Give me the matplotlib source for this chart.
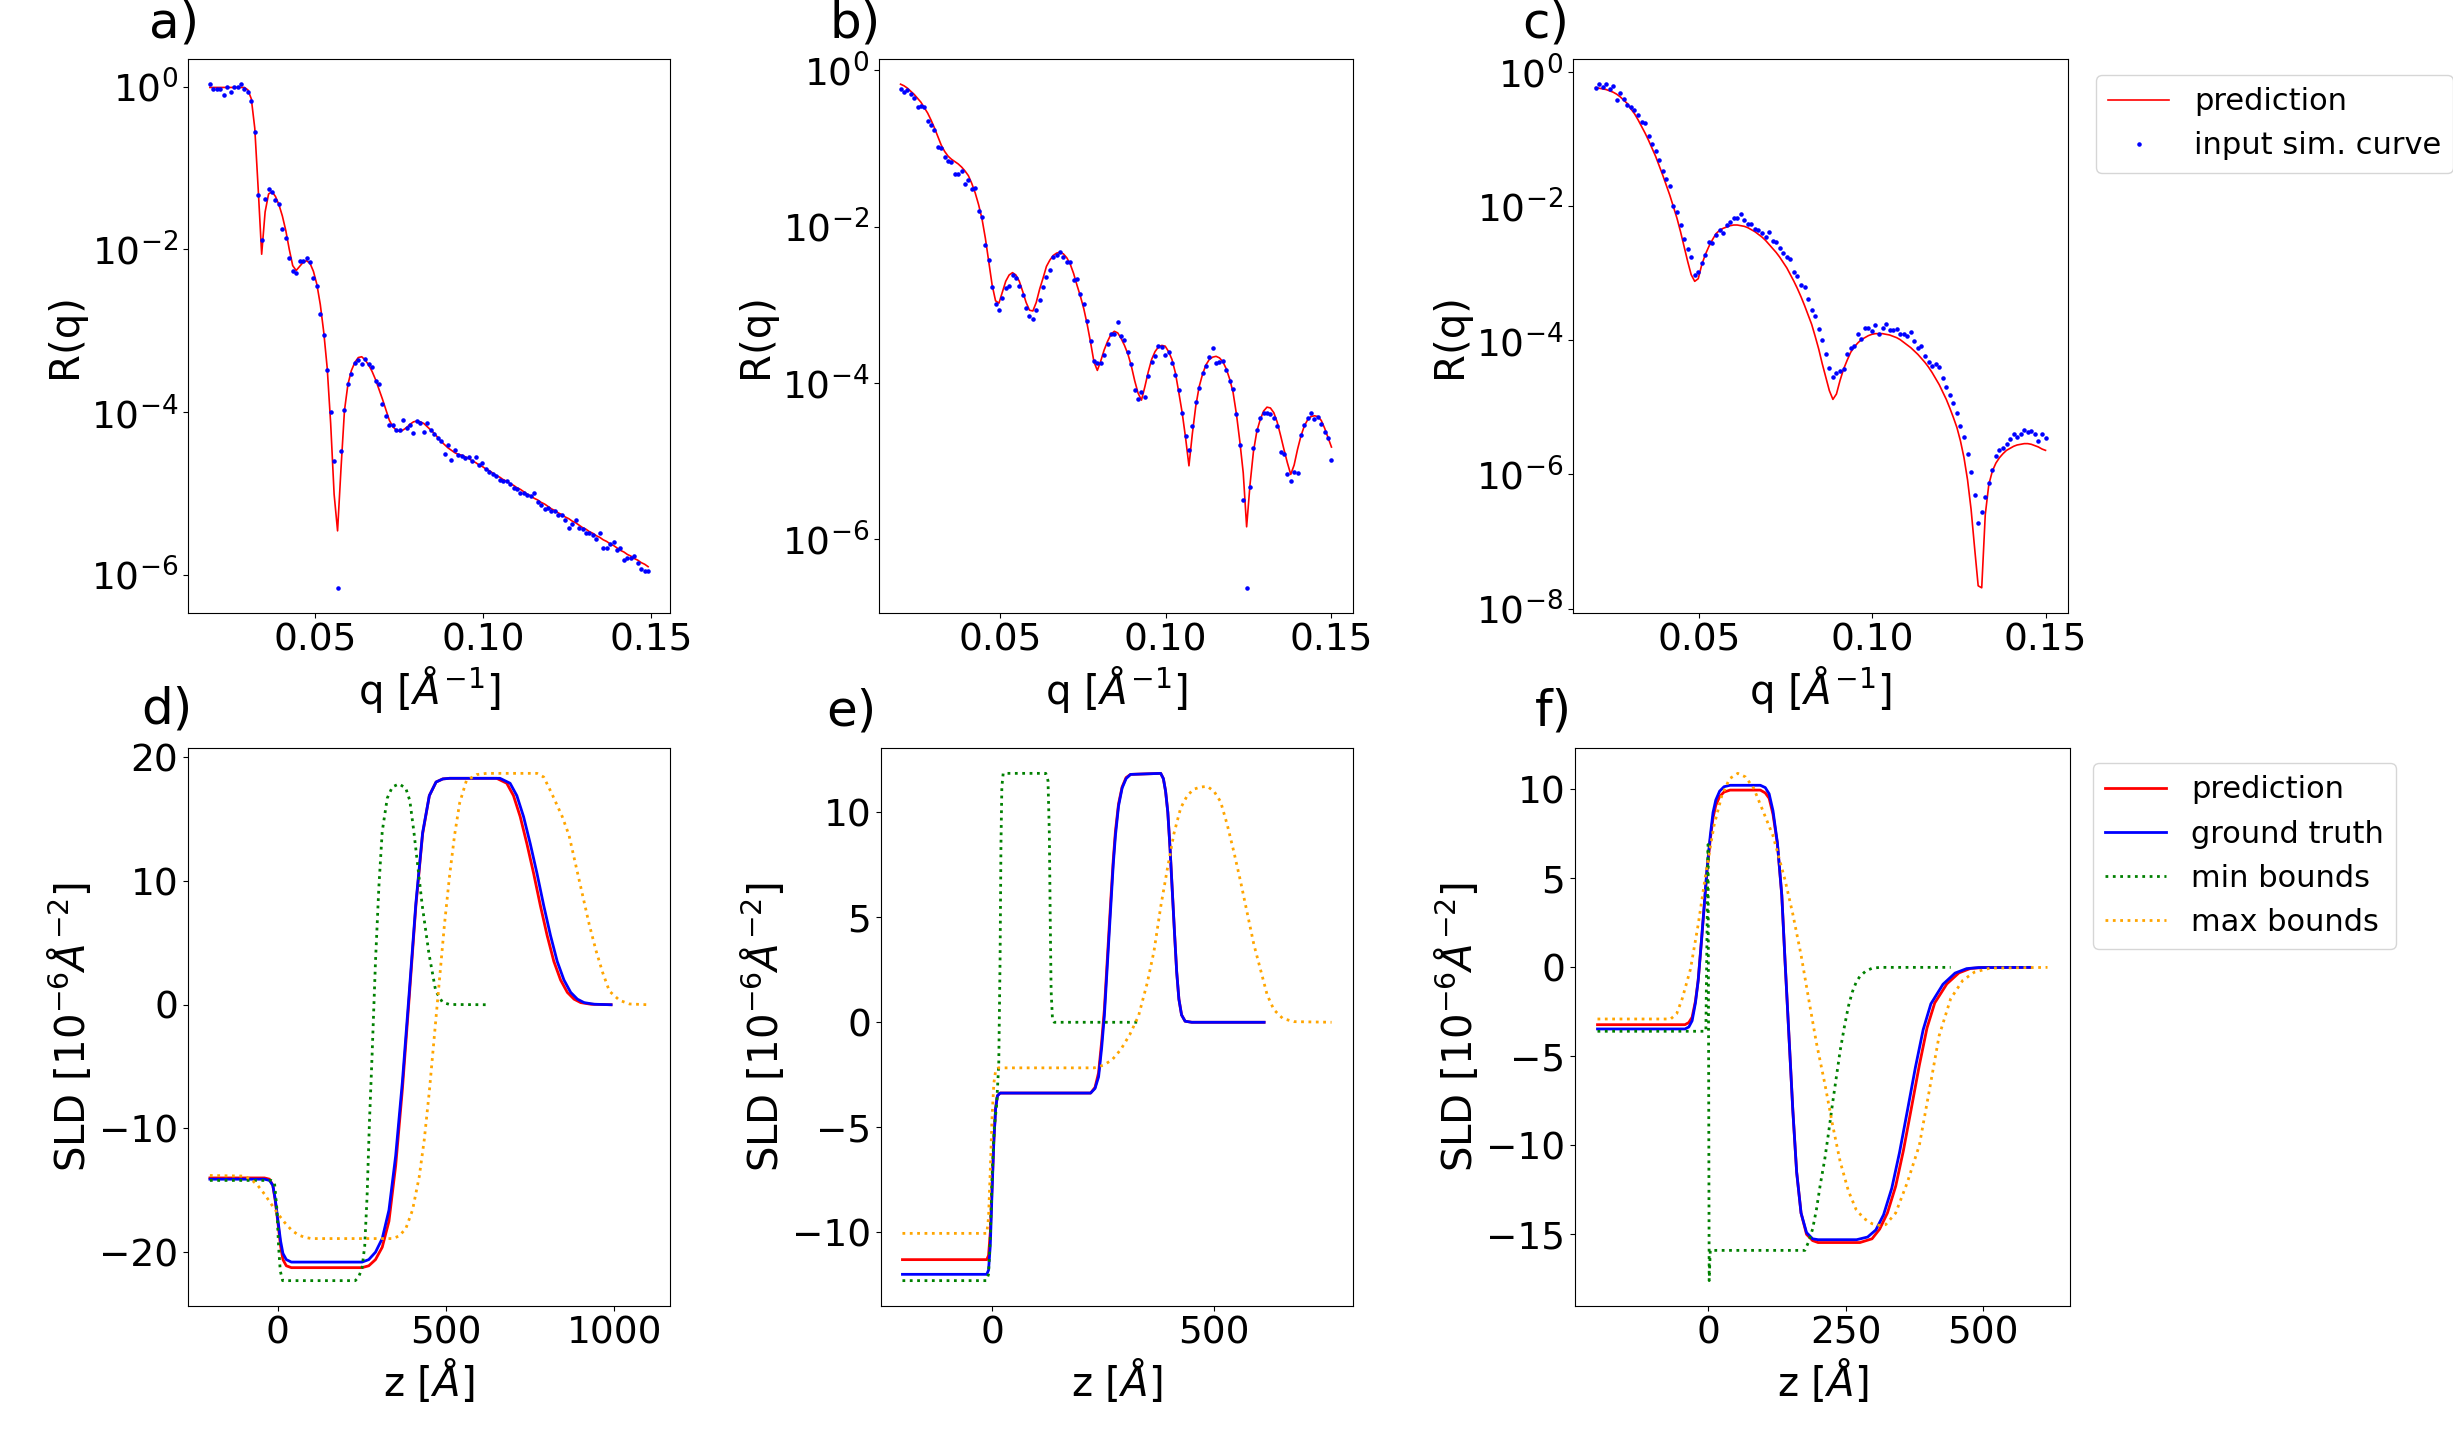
import numpy as np
import matplotlib
matplotlib.use('Agg')
import matplotlib.pyplot as plt
from matplotlib.ticker import NullLocator

plt.rcParams['font.size'] = 27
plt.rcParams['axes.labelsize'] = 29

# ---- reflectivity curves (log10 R), 128 q points per panel ----
q_range_a = (0.0188, 0.149)
q_range_b = (0.02, 0.15)
q_range_c = (0.02, 0.15)

pred_a = [-0.01, -0.01, -0.01, -0.01, -0.01, -0.01, -0.01, -0.01, -0.01, -0.01, -0.01,
          -0.04, -0.15, -0.51, -1.26, -2.06, -1.54, -1.32, -1.29, -1.35, -1.45,
          -1.59, -1.77, -2.00, -2.20, -2.26, -2.21, -2.16, -2.14, -2.17, -2.27,
          -2.43, -2.68, -3.02, -3.46, -4.14, -5.01, -5.46, -4.69, -3.98, -3.66,
          -3.49, -3.39, -3.33, -3.32, -3.36, -3.42, -3.50, -3.60, -3.72, -3.84,
          -3.97, -4.10, -4.18, -4.22, -4.24, -4.22, -4.19, -4.15, -4.12, -4.11,
          -4.12, -4.14, -4.18, -4.22, -4.26, -4.31, -4.36, -4.40, -4.44, -4.47,
          -4.50, -4.52, -4.53, -4.55,
          -4.57, -4.60, -4.62, -4.65, -4.67, -4.70, -4.72, -4.75, -4.78, -4.80,
          -4.83, -4.85, -4.88, -4.90, -4.93, -4.95, -4.98, -5.01, -5.03, -5.06,
          -5.08, -5.11, -5.13, -5.16, -5.19, -5.21, -5.24, -5.26, -5.29, -5.31,
          -5.34, -5.36, -5.39, -5.42, -5.44, -5.47, -5.49, -5.52, -5.54, -5.57,
          -5.59, -5.62, -5.64, -5.67, -5.70, -5.72, -5.75, -5.77, -5.80, -5.82,
          -5.85, -5.87, -5.90]
sim_a = [0.03, -0.03, -0.03, -0.03, -0.10, 0.00, -0.06, 0.00, 0.00, 0.03,
         -0.03, -0.07, -0.18, -0.56, -1.33, -1.89, -1.38, -1.26, -1.29, -1.39,
         -1.44, -1.75, -1.86, -2.11, -2.27, -2.29, -2.14, -2.14, -2.11, -2.15,
         -2.35, -2.45, -2.80, -3.05, -3.48, -4.00, -4.60, -6.16, -4.48, -3.97,
         -3.65, -3.53, -3.40, -3.36, -3.41, -3.35, -3.41, -3.44, -3.62, -3.65,
         -3.90, -4.05, -4.16, -4.16, -4.22, -4.22, -4.10, -4.20, -4.16, -4.26,
         -4.11, -4.13, -4.24, -4.13, -4.22, -4.27, -4.32, -4.35, -4.52, -4.41,
         -4.59, -4.47, -4.53, -4.54, -4.57, -4.55, -4.60, -4.55, -4.65, -4.62,
         -4.70, -4.74, -4.76, -4.78, -4.83, -4.85, -4.85, -4.89, -4.93, -4.94,
         -4.99, -4.99, -5.02, -5.03, -5.00, -5.11, -5.14, -5.19, -5.18, -5.21,
         -5.21, -5.26, -5.27, -5.33, -5.42, -5.37, -5.33, -5.42, -5.44, -5.49,
         -5.49, -5.51, -5.56, -5.49, -5.67, -5.67, -5.62, -5.60, -5.69, -5.67,
         -5.82, -5.79, -5.79, -5.77, -5.86, -5.93, -5.95, -5.95]

pred_b = [-0.18, -0.20, -0.23, -0.27, -0.31, -0.36, -0.41, -0.48, -0.55, -0.64,
          -0.74, -0.85, -0.96, -1.04, -1.10, -1.14, -1.17, -1.20, -1.24, -1.29,
          -1.35, -1.45, -1.57, -1.72, -1.90, -2.15, -2.45, -2.75, -2.95, -2.98,
          -2.84, -2.70, -2.62, -2.59, -2.62, -2.70, -2.83, -2.97, -3.07, -3.08,
          -2.97, -2.80, -2.66, -2.51, -2.43, -2.37, -2.34, -2.33, -2.35, -2.40,
          -2.48, -2.60, -2.75, -2.89, -3.05, -3.25, -3.48, -3.73, -3.84, -3.72,
          -3.58, -3.47, -3.38, -3.34, -3.36, -3.43, -3.52, -3.63, -3.78, -3.97,
          -4.13, -4.22, -4.05, -3.86, -3.70, -3.60, -3.54, -3.52, -3.53, -3.60,
          -3.70, -3.87, -4.12, -4.38, -4.70, -5.06, -4.65, -4.30, -4.05, -3.89,
          -3.77, -3.70, -3.67, -3.66, -3.68, -3.73, -3.82, -3.95, -4.12, -4.40,
          -4.75, -5.15, -5.84, -5.30, -4.88, -4.62, -4.47, -4.36, -4.31, -4.32,
          -4.38, -4.50, -4.67, -4.85, -5.02, -5.17, -5.05, -4.85, -4.68, -4.55,
          -4.47, -4.43, -4.42, -4.43, -4.48, -4.58, -4.70, -4.82]
sim_b = [-0.24, -0.28, -0.26, -0.30, -0.36, -0.47, -0.46, -0.47, -0.65, -0.70,
         -0.76, -0.98, -1.00, -1.11, -1.16, -1.17, -1.33, -1.33, -1.29, -1.46,
         -1.41, -1.52, -1.51, -1.80, -1.88, -2.23, -2.43, -2.77, -2.99, -3.07,
         -2.92, -2.79, -2.76, -2.62, -2.66, -2.76, -2.87, -3.04, -3.15, -3.18,
         -3.07, -2.94, -2.77, -2.64, -2.55, -2.39, -2.36, -2.33, -2.39, -2.46,
         -2.46, -2.68, -2.67, -2.86, -2.99, -3.21, -3.47, -3.72, -3.75, -3.75,
         -3.64, -3.50, -3.37, -3.37, -3.22, -3.40, -3.45, -3.60, -3.76, -4.09,
         -4.20, -4.11, -4.18, -3.91, -3.73, -3.66, -3.53, -3.54, -3.64, -3.61,
         -3.75, -3.90, -4.09, -4.39, -4.68, -4.86, -4.55, -4.24, -4.06, -3.87,
         -3.79, -3.67, -3.55, -3.74, -3.73, -3.72, -3.84, -3.97, -4.08, -4.40,
         -4.80, -5.50, -6.62, -5.33, -4.83, -4.60, -4.45, -4.39, -4.39, -4.40,
         -4.45, -4.55, -4.88, -4.91, -5.17, -5.25, -5.14, -5.15, -4.67, -4.54,
         -4.45, -4.39, -4.46, -4.43, -4.52, -4.63, -4.71, -4.99]

pred_c = [-0.23, -0.24, -0.25, -0.26, -0.28, -0.30, -0.33, -0.37, -0.42, -0.47,
          -0.55, -0.62, -0.71, -0.81, -0.91, -1.02, -1.14, -1.26, -1.40, -1.54,
          -1.69, -1.84, -2.01, -2.18, -2.38, -2.60, -2.82, -3.02, -3.12, -3.08,
          -2.87, -2.72, -2.60, -2.50, -2.41, -2.36, -2.33, -2.31, -2.29, -2.28,
          -2.28, -2.29, -2.30, -2.32, -2.35, -2.38, -2.42, -2.46, -2.51, -2.57,
          -2.63, -2.69, -2.76, -2.84, -2.92, -3.02, -3.12, -3.23, -3.35, -3.48,
          -3.62, -3.76, -3.94, -4.13, -4.35, -4.55, -4.75, -4.88, -4.80, -4.60,
          -4.43, -4.30, -4.18, -4.10, -4.04, -3.99, -3.96, -3.93, -3.91, -3.90,
          -3.90, -3.90, -3.91, -3.92, -3.94, -3.96, -3.99, -4.03, -4.07, -4.11,
          -4.16, -4.21, -4.27, -4.33, -4.40, -4.48, -4.57, -4.66, -4.77, -4.88,
          -5.01, -5.15, -5.30, -5.50, -5.75, -6.08, -6.52, -7.10, -7.66, -7.69,
          -6.60, -6.15, -5.95, -5.83, -5.75, -5.69, -5.64, -5.61, -5.58, -5.56,
          -5.55, -5.54, -5.54, -5.55, -5.57, -5.59, -5.62, -5.64]
sim_c = [-0.24, -0.18, -0.22, -0.18, -0.25, -0.20, -0.41, -0.31, -0.40, -0.49,
         -0.52, -0.57, -0.64, -0.75, -0.76, -0.95, -1.07, -1.17, -1.31, -1.48,
         -1.59, -1.70, -1.99, -2.08, -2.28, -2.49, -2.64, -2.76, -3.02, -2.98,
         -2.85, -2.72, -2.53, -2.55, -2.43, -2.36, -2.40, -2.28, -2.23, -2.18,
         -2.18, -2.12, -2.20, -2.27, -2.27, -2.34, -2.36, -2.40, -2.46, -2.39,
         -2.52, -2.54, -2.62, -2.69, -2.76, -2.79, -2.98, -3.04, -3.18, -3.20,
         -3.39, -3.54, -3.63, -3.83, -4.00, -4.20, -4.41, -4.55, -4.49, -4.45,
         -4.43, -4.21, -4.12, -4.09, -3.91, -3.98, -3.81, -3.81, -3.86, -3.77,
         -3.91, -3.81, -3.75, -3.85, -3.84, -3.83, -3.90, -3.90, -3.93, -3.87,
         -4.01, -4.12, -4.09, -4.24, -4.32, -4.38, -4.35, -4.40, -4.56, -4.69,
         -4.82, -4.93, -5.08, -5.27, -5.44, -5.70, -5.96, -6.31, -6.72, -6.56,
         -6.34, -6.12, -5.93, -5.72, -5.64, -5.61, -5.55, -5.47, -5.40, -5.44,
         -5.39, -5.33, -5.36, -5.35, -5.40, -5.50, -5.40, -5.45]

# ---- SLD profiles: z [A], SLD [1e-6 A^-2] ----
z_pred_d = [-202, -40, -25, -15, -8, 0, 8, 15, 25, 40, 250, 270, 290, 310, 330, 350, 370, 390, 410, 430,
            450, 470, 490, 510, 650, 680, 700, 720, 740, 760, 780, 800, 820, 840, 860, 880, 900, 930, 990]
sld_pred_d = [-14.0, -14.0, -14.1, -14.6, -15.8, -17.6, -19.5, -20.6, -21.1, -21.25, -21.25, -21.1, -20.6, -19.6,
              -17.5, -13.0, -6.8, 0.5, 8.0, 13.8, 16.9, 18.0, 18.25, 18.3, 18.3, 17.9, 16.9, 15.2, 13.0, 10.6,
              8.0, 5.6, 3.5, 2.0, 1.0, 0.45, 0.17, 0.04, 0.0]
z_true_d = [-202, -40, -25, -15, -8, 0, 8, 15, 25, 40, 250, 270, 290, 310, 330, 350, 370, 390, 410, 430,
            450, 470, 490, 510, 660, 690, 710, 730, 750, 770, 790, 810, 830, 850, 870, 890, 910, 940, 990]
sld_true_d = [-14.1, -14.1, -14.2, -14.6, -15.7, -17.4, -19.1, -20.1, -20.6, -20.8, -20.8, -20.6, -20.0, -18.9,
              -16.6, -12.2, -6.2, 0.9, 8.2, 13.9, 16.9, 18.0, 18.25, 18.3, 18.3, 17.9, 16.9, 15.2, 13.0, 10.6,
              8.0, 5.6, 3.5, 2.0, 1.0, 0.45, 0.17, 0.04, 0.0]
z_min_d = [-202, -20, -10, -3, 2, 7, 14, 230, 240, 250, 258, 265, 272, 280, 290, 300, 310, 325, 340, 360,
           380, 392, 404, 414, 429, 449, 469, 489, 510, 623]
sld_min_d = [-14.2, -14.2, -14.4, -16.5, -19.5, -21.5, -22.3, -22.3, -22.0, -21.3, -19.5, -15.5, -9.5, -4.0,
             3.5, 9.5, 14.0, 16.7, 17.6, 17.85, 17.5, 16.5, 14.0, 11.6, 8.0, 4.1, 1.1, 0.2, 0.02, 0.0]
z_max_d = [-202, -100, -80, -60, -40, -20, 0, 20, 40, 60, 80, 100, 340, 360, 380, 400, 420, 435, 450, 465,
           480, 495, 510, 525, 540, 560, 590, 620, 770, 790, 815, 845, 865, 885, 905, 925, 945, 965, 985,
           1015, 1045, 1100]
sld_max_d = [-13.8, -13.85, -14.1, -14.6, -15.3, -16.1, -16.9, -17.6, -18.2, -18.6, -18.8, -18.9, -18.9, -18.7,
             -18.1, -16.6, -13.9, -10.9, -7.0, -2.5, 2.0, 6.5, 10.4, 13.7, 16.3, 18.1, 18.6, 18.7, 18.7, 18.4,
             17.0, 15.2, 13.7, 11.3, 8.9, 6.5, 4.4, 2.6, 1.1, 0.36, 0.06, 0.0]

z_pred_e = [-202, -12, -8, -4, 0, 4, 8, 12, 18, 222, 232, 240, 247, 253, 258, 263, 268, 273, 278, 285,
            293, 302, 312, 380, 386, 391, 396, 401, 406, 411, 416, 421, 427, 435, 450, 613]
sld_pred_e = [-11.3, -11.3, -11.1, -10.0, -7.8, -5.6, -4.1, -3.5, -3.37, -3.37, -3.1, -2.4, -0.9, 0.6, 2.4,
              4.2, 6.0, 7.7, 9.1, 10.4, 11.2, 11.65, 11.8, 11.85, 11.6, 11.0, 10.0, 8.3, 6.3, 4.3, 2.4, 1.1,
              0.35, 0.05, 0.0, 0.0]
z_true_e = [-202, -12, -8, -4, 0, 4, 8, 12, 18, 222, 232, 240, 247, 253, 258, 263, 268, 273, 278, 285,
            293, 302, 312, 380, 386, 391, 396, 401, 406, 411, 416, 421, 427, 435, 450, 613]
sld_true_e = [-12.0, -12.0, -11.8, -10.6, -8.0, -5.6, -4.1, -3.5, -3.37, -3.37, -3.15, -2.6, -1.2, 0.3, 2.1,
              3.9, 5.7, 7.5, 8.9, 10.3, 11.15, 11.6, 11.8, 11.85, 11.6, 11.0, 10.0, 8.3, 6.3, 4.3, 2.4, 1.1,
              0.35, 0.05, 0.0, 0.0]
z_min_e = [-202, -13, -8, -4, 0, 5, 10, 15, 18, 20, 22, 25, 121, 126, 129, 131, 133, 136, 140, 330]
sld_min_e = [-12.3, -12.3, -12.0, -10.2, -7.3, -5.0, -4.0, -2.0, 3.0, 8.5, 11.2, 11.85, 11.85, 11.5, 9.0,
             5.0, 1.5, 0.2, 0.0, 0.0]
z_max_e = [-202, -12, -8, -4, 0, 4, 8, 14, 230, 250, 270, 290, 310, 330, 350, 365, 380, 395, 410, 425,
           440, 455, 470, 485, 500, 515, 530, 545, 560, 575, 590, 605, 620, 635, 655, 680, 765]
sld_max_e = [-10.05, -10.05, -9.3, -7.0, -4.5, -2.9, -2.3, -2.17, -2.17, -2.05, -1.8, -1.3, -0.6, 0.3, 1.9,
             3.4, 5.5, 7.3, 9.0, 10.2, 10.8, 11.1, 11.2, 11.23, 11.0, 10.5, 9.4, 8.1, 6.7, 5.2, 3.7, 2.5, 1.3,
             0.6, 0.18, 0.03, 0.0]

z_pred_f = [-201, -42, -35, -29, -23, -18, -12, -7, -2, 4, 9, 14, 21, 29, 40, 95, 104, 111, 118, 126,
            134, 140, 147, 154, 161, 169, 179, 190, 200, 276, 298, 312, 326, 341, 355, 369, 384, 398, 412,
            434, 456, 477, 499, 585]
sld_pred_f = [-3.22, -3.22, -3.1, -2.8, -1.9, -0.73, 1.5, 3.4, 5.4, 7.2, 8.4, 9.1, 9.6, 9.85, 9.96, 9.96,
              9.8, 9.5, 8.6, 6.95, 4.05, 0.3, -3.84, -8.0, -11.5, -13.8, -15.0, -15.35, -15.46, -15.46,
              -15.25, -14.7, -13.8, -12.3, -10.3, -8.0, -5.5, -3.4, -2.0, -0.93, -0.31, -0.06, -0.01, 0.0]
z_true_f = [-201, -42, -35, -29, -23, -18, -12, -7, -2, 4, 9, 14, 21, 29, 40, 95, 104, 111, 118, 126,
            134, 140, 147, 154, 161, 169, 179, 190, 200, 270, 290, 305, 319, 334, 348, 362, 377, 391, 405,
            427, 449, 470, 492, 585]
sld_true_f = [-3.46, -3.46, -3.35, -3.0, -2.0, -0.75, 1.5, 3.5, 5.5, 7.4, 8.7, 9.4, 9.9, 10.15, 10.23,
              10.23, 10.1, 9.75, 8.8, 7.0, 4.05, 0.3, -3.84, -8.0, -11.5, -13.8, -14.9, -15.25, -15.3, -15.3,
              -15.15, -14.75, -13.9, -12.4, -10.4, -8.1, -5.6, -3.5, -2.05, -0.95, -0.32, -0.07, -0.01, 0.0]
z_min_f = [-201, -4, 0, 2, 4, 176, 183, 190, 197, 204, 212, 219, 226, 233, 240, 248, 255, 262, 269, 276,
           287, 298, 312, 441]
sld_min_f = [-3.59, -3.59, 6.9, -17.6, -15.9, -15.9, -15.4, -14.7, -13.6, -12.2, -10.8, -9.3, -7.7, -6.2,
             -4.7, -3.3, -2.2, -1.4, -0.85, -0.5, -0.2, -0.05, 0.0, 0.0]
z_max_f = [-201, -68, -57, -47, -32, -18, -4, 11, 25, 39, 54, 68, 83, 97, 118, 140, 154, 169, 183, 197,
           212, 226, 240, 255, 269, 283, 298, 312, 323, 341, 362, 384, 402, 420, 441, 463, 484, 513, 617]
sld_max_f = [-2.9, -2.9, -2.6, -1.76, -0.1, 2.4, 5.3, 8.0, 9.65, 10.6, 10.9, 10.7, 10.06, 9.0, 7.4, 4.9,
             3.0, 0.7, -1.8, -4.25, -6.5, -8.8, -10.9, -12.55, -13.6, -14.1, -14.4, -14.5, -14.45, -13.8,
             -12.1, -10.0, -6.95, -3.84, -1.76, -0.73, -0.27, -0.04, 0.0]

W, H = 2453, 1437
fig = plt.figure(figsize=(W / 100, H / 100), dpi=100)


def box(x0, y0, x1, y1):
    # pixel box of the axes -> figure fraction
    return [x0 / W, 1 - y1 / H, (x1 - x0) / W, (y1 - y0) / H]


ax_a = fig.add_axes(box(188, 59, 670, 613))
ax_b = fig.add_axes(box(879, 59, 1353, 613))
ax_c = fig.add_axes(box(1573, 59, 2068, 613))
ax_d = fig.add_axes(box(188, 748, 670, 1306))
ax_e = fig.add_axes(box(881, 748, 1353, 1306))
ax_f = fig.add_axes(box(1575, 748, 2070, 1306))

refl = [(ax_a, q_range_a, pred_a, sim_a, [1, 1e-2, 1e-4, 1e-6]),
        (ax_b, q_range_b, pred_b, sim_b, [1, 1e-2, 1e-4, 1e-6]),
        (ax_c, q_range_c, pred_c, sim_c, [1, 1e-2, 1e-4, 1e-6, 1e-8])]
for ax, qr, pred, sim, yt in refl:
    q_pred = np.linspace(qr[0], qr[1], len(pred))
    q_sim = np.linspace(qr[0], qr[1], len(sim))
    ax.plot(q_pred, 10 ** np.array(pred), color='red', lw=1.2, label='prediction')
    ax.plot(q_sim, 10 ** np.array(sim), '.', color='blue', ms=4.5, label='input sim. curve')
    ax.set_yscale('log')
    ax.set_yticks(yt)
    ax.yaxis.set_minor_locator(NullLocator())
    ax.set_xticks([0.05, 0.10, 0.15])
    ax.set_xlabel(r'q [$Å^{-1}$]')
    ax.set_ylabel('R(q)')

sld = [(ax_d, [(z_pred_d, sld_pred_d), (z_true_d, sld_true_d), (z_min_d, sld_min_d), (z_max_d, sld_max_d)],
        [0, 500, 1000], [-20, -10, 0, 10, 20]),
       (ax_e, [(z_pred_e, sld_pred_e), (z_true_e, sld_true_e), (z_min_e, sld_min_e), (z_max_e, sld_max_e)],
        [0, 500], [-10, -5, 0, 5, 10]),
       (ax_f, [(z_pred_f, sld_pred_f), (z_true_f, sld_true_f), (z_min_f, sld_min_f), (z_max_f, sld_max_f)],
        [0, 250, 500], [-15, -10, -5, 0, 5, 10])]
styles = [('red', '-', 'prediction'), ('blue', '-', 'ground truth'),
          ('green', ':', 'min bounds'), ('orange', ':', 'max bounds')]
for ax, curves, xt, yt in sld:
    for (z, s), (c, ls, lab) in zip(curves, styles):
        ax.plot(z, s, color=c, ls=ls, lw=2, label=lab)
    ax.set_xticks(xt)
    ax.set_yticks(yt)
    ax.set_xlabel(r'z [$Å$]')
    ax.set_ylabel(r'SLD [$10^{-6} Å^{-2}$]')

# panel letters (left edge x, centre y in pixels)
panel_pos = [('a)', 149, 24), ('b)', 829, 24), ('c)', 1522, 24),
             ('d)', 141, 710), ('e)', 826, 712), ('f)', 1535, 712)]
for lab, px, py in panel_pos:
    fig.text(px / W, 1 - py / H, lab, fontsize=36, ha='left', va='center')

ax_c.legend(loc='upper left', bbox_to_anchor=(2096 / W, 1 - 75 / H), bbox_transform=fig.transFigure,
            borderaxespad=0, fontsize=22)
ax_f.legend(loc='upper left', bbox_to_anchor=(2093 / W, 1 - 763 / H), bbox_transform=fig.transFigure,
            borderaxespad=0, fontsize=22)

fig.savefig('out.png', dpi=100)
